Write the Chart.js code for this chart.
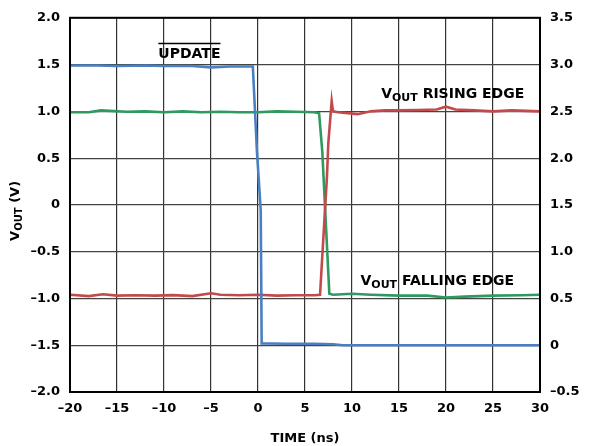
<!DOCTYPE html>
<html>
<head>
<meta charset="utf-8">
<script src="https://cdn.jsdelivr.net/npm/chart.js@4.4.0/dist/chart.umd.min.js"></script>
<style>
  html, body { margin: 0; padding: 0; background: #fff; }
  #wrap { width: 589px; height: 446px; position: relative; }
</style>
</head>
<body>
<div id="wrap"><canvas id="grafico"></canvas></div>
<script>
// Etiquetas de los ejes -----------------------------
const etiquetasTiempo = ['–20', '–15', '–10', '–5', '0', '5', '10', '15', '20', '25', '30'];
const etiquetasVout = ['–2.0', '–1.5', '–1.0', '–0.5', '0', '0.5', '1.0', '1.5', '2.0'];
const etiquetasDerecha = ['–0.5', '0', '0.5', '1.0', '1.5', '2.0', '2.5', '3.0', '3.5'];

// UPDATE (azul)
const tiempoUpdate = [-20, -17, -15, -12, -10, -7, -5, -3, -1, -0.55, -0.11, 0.29, 0.39, 3, 6, 8, 9, 12, 15, 20, 25, 30];
const valorUpdate = [1.49, 1.49, 1.485, 1.49, 1.485, 1.485, 1.47, 1.48, 1.48, 1.48, 0.57, -0.06, -1.48, -1.485, -1.485, -1.49, -1.5, -1.5, -1.5, -1.5, -1.5, -1.5];

// VOUT flanco de subida (rojo)
const tiempoSubida = [-20, -18, -16.5, -15, -13, -11, -9, -7, -5, -4, -2, 0, 2, 4, 6, 6.6, 7.34, 7.48, 7.84, 7.98, 8.5, 10.6, 12, 13.5, 15, 17, 19, 20, 21, 23, 25, 27, 30];
const valorSubida = [-0.96, -0.975, -0.955, -0.97, -0.965, -0.97, -0.965, -0.975, -0.945, -0.96, -0.965, -0.96, -0.97, -0.965, -0.965, -0.96, 0.31, 0.66, 1.11, 1.0, 0.99, 0.97, 1.0, 1.01, 1.01, 1.015, 1.02, 1.05, 1.02, 1.01, 1.0, 1.01, 1.0];

// VOUT flanco de bajada (verde)
const tiempoBajada = [-20, -18, -16.7, -14, -12, -10, -8, -6, -4, -2, 0, 2, 4, 6, 6.5, 6.84, 7.59, 8, 10, 12, 15, 18, 20, 22, 25, 28, 30];
const valorBajada = [0.99, 0.99, 1.01, 0.995, 1.0, 0.99, 1.0, 0.99, 0.995, 0.99, 0.99, 1.0, 0.995, 0.99, 0.98, 0.57, -0.95, -0.96, -0.95, -0.96, -0.97, -0.97, -0.99, -0.98, -0.97, -0.965, -0.96];

const fuente = 'DejaVu Sans';

function puntos(tiempos, valores) {
    return tiempos.map((t, i) => ({ x: t, y: valores[i] }));
}

// Textos con subindice (VOUT)
function textoPartes(ctx, partes, x, y) {
    let px = x;
    for (let p of partes) {
        ctx.font = 'bold ' + p.size + 'px "' + fuente + '"';
        ctx.fillText(p.t, px, y + (p.dy || 0));
        px += ctx.measureText(p.t).width;
    }
    return px;
}

const etiquetasPlugin = {
    id: 'etiquetas',
    afterDraw(chart) {
        const ctx = chart.ctx;
        const a = chart.chartArea;
        const sx = chart.scales.x;
        const sy = chart.scales.y;
        ctx.save();

        // marco negro
        ctx.strokeStyle = '#000';
        ctx.lineWidth = 2;
        ctx.strokeRect(a.left, a.top, a.right - a.left, a.bottom - a.top);

        ctx.fillStyle = '#000';
        ctx.textBaseline = 'alphabetic';

        // UPDATE con barra
        let x0 = sx.getPixelForValue(-10.6);
        let y0 = sy.getPixelForValue(1.575);
        let x1 = textoPartes(ctx, [{ t: 'UPDATE', size: 14 }], x0, y0);
        ctx.lineWidth = 1.5;
        ctx.beginPath();
        ctx.moveTo(x0, y0 - 14);
        ctx.lineTo(x1, y0 - 14);
        ctx.stroke();

        // VOUT RISING EDGE
        textoPartes(ctx, [
            { t: 'V', size: 14 },
            { t: 'OUT', size: 11, dy: 3 },
            { t: ' RISING EDGE', size: 14 }
        ], sx.getPixelForValue(13.1), sy.getPixelForValue(1.14));

        // VOUT FALLING EDGE
        textoPartes(ctx, [
            { t: 'V', size: 14 },
            { t: 'OUT', size: 11, dy: 3 },
            { t: ' FALLING EDGE', size: 14 }
        ], sx.getPixelForValue(10.9), sy.getPixelForValue(-0.86));

        // Titulo eje Y
        ctx.translate(19, (a.top + a.bottom) / 2 + 6);
        ctx.rotate(-Math.PI / 2);
        ctx.font = 'bold 13px "' + fuente + '"';
        let ancho = ctx.measureText('V').width + ctx.measureText(' (V)').width;
        ctx.font = 'bold 10px "' + fuente + '"';
        ancho += ctx.measureText('OUT').width;
        textoPartes(ctx, [
            { t: 'V', size: 13 },
            { t: 'OUT', size: 10, dy: 3 },
            { t: ' (V)', size: 13 }
        ], -ancho / 2, 0);

        ctx.restore();
    }
};

const ctx = document.getElementById('grafico');

const grafico = new Chart(ctx, {
    type: 'line',
    data: {
        datasets: [
            {
                label: 'UPDATE',
                data: puntos(tiempoUpdate, valorUpdate),
                borderColor: '#4a7fc1',
                borderWidth: 2.6
            },
            {
                label: 'VOUT RISING EDGE',
                data: puntos(tiempoSubida, valorSubida),
                borderColor: '#c24a4a',
                borderWidth: 2.6
            },
            {
                label: 'VOUT FALLING EDGE',
                data: puntos(tiempoBajada, valorBajada),
                borderColor: '#2f9a5f',
                borderWidth: 2.6
            }
        ]
    },
    options: {
        responsive: true,
        maintainAspectRatio: false,
        animation: false,
        layout: { padding: { top: 16 } },
        elements: { point: { radius: 0 }, line: { tension: 0 } },
        plugins: { legend: { display: false }, tooltip: { enabled: false } },
        scales: {
            x: {
                type: 'linear',
                min: -20,
                max: 30,
                ticks: {
                    stepSize: 5,
                    padding: 9,
                    color: '#000',
                    font: { family: fuente, size: 13, weight: 'bold' },
                    callback: (v, i) => etiquetasTiempo[i]
                },
                grid: { color: '#333', lineWidth: 1.2, drawTicks: false },
                border: { color: '#000', width: 2 },
                title: {
                    display: true,
                    text: 'TIME (ns)',
                    color: '#000',
                    font: { family: fuente, size: 13, weight: 'bold' },
                    padding: 0
                },
                afterFit: (s) => { s.height = 54; }
            },
            y: {
                position: 'left',
                min: -2,
                max: 2,
                ticks: {
                    stepSize: 0.5,
                    padding: 10,
                    color: '#000',
                    font: { family: fuente, size: 13, weight: 'bold' },
                    callback: (v, i) => etiquetasVout[i]
                },
                grid: { color: '#444', lineWidth: 1.2, drawTicks: false },
                border: { color: '#000', width: 2 },
                afterFit: (s) => { s.width = 70; }
            },
            y2: {
                position: 'right',
                min: -0.5,
                max: 3.5,
                ticks: {
                    stepSize: 0.5,
                    padding: 10,
                    color: '#000',
                    font: { family: fuente, size: 13, weight: 'bold' },
                    callback: (v, i) => etiquetasDerecha[i]
                },
                grid: { display: false, drawTicks: false },
                border: { color: '#000', width: 2 },
                afterFit: (s) => { s.width = 49; }
            }
        }
    },
    plugins: [etiquetasPlugin]
});
</script>
</body>
</html>
